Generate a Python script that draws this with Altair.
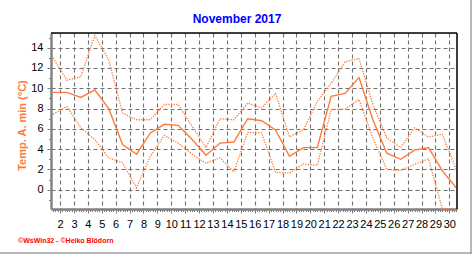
import altair as alt
import pandas as pd

# ---- data ----
days = list(range(1, 31))
temp_min = [9.6, 9.6, 9.1, 9.85, 8.0, 4.45, 3.5, 5.6, 6.45, 6.35,
            4.95, 3.4, 4.6, 4.7, 7.0, 6.8, 5.9, 3.3, 4.15, 4.15,
            9.2, 9.5, 11.05, 6.9, 3.6, 3.0, 3.9, 4.15, 1.85, 0.2]
temp_upper = [13.0, 10.8, 11.15, 15.2, 12.8, 7.55, 6.9, 6.9, 8.4, 8.4,
              6.25, 4.15, 7.0, 6.9, 8.55, 8.05, 9.5, 5.2, 5.9, 8.7,
              10.5, 12.6, 12.95, 8.4, 5.1, 4.15, 6.1, 5.2, 5.45, 2.0]
temp_lower = [7.45, 8.2, 6.1, 4.95, 3.15, 2.65, 0.2, 3.3, 5.35, 4.6,
              3.5, 2.6, 3.15, 1.75, 5.65, 5.6, 1.7, 1.65, 2.55, 2.4,
              7.9, 7.95, 8.9, 5.1, 2.0, 1.9, 2.5, 3.05, -2.5, -3.0]

x_labels = list(range(2, 31))
y_labels = list(range(0, 15, 2))
x_minor = [round(i / 6, 5) for i in range(9, 184)]
y_minor = list(range(-1, 16))

title_text = "November 2017"
y_title = "Temp. A. min (°C)"
footer_text = "©WsWin32 - ©Heiko Blödorn"

df = pd.DataFrame({"day": days, "tmin": temp_min,
                   "tupper": temp_upper, "tlower": temp_lower})

ORANGE = "#FF7A3A"
GRID = "#707070"
W, H = 406, 176
FONT = "Liberation Sans"

x_scale = alt.Scale(domain=[1.35, 30.55], nice=False, zero=False)
y_scale = alt.Scale(domain=[-1.9, 15.45], nice=False, zero=False, clamp=True)

x_axis = alt.Axis(
    values=x_labels, title=None, format="d", orient="bottom",
    labelOverlap=False, labelFont=FONT, labelFontSize=11, labelColor="black",
    labelPadding=5, labelFlush=False,
    grid=True, gridDash=[4, 3], gridColor=GRID, gridWidth=1.1,
    domainColor="#808080", domainWidth=2.4,
    tickColor="#808080", tickSize=4, tickWidth=1,
)
y_axis = alt.Axis(
    values=y_labels, title=y_title, format="d", orient="left",
    labelOverlap=False, labelFont=FONT, labelFontSize=11, labelColor="black",
    labelPadding=4, labelFlush=False,
    grid=True, gridDash=[4, 3], gridColor=GRID, gridWidth=1.1,
    domainColor="#808080", domainWidth=2.4,
    tickColor="#808080", tickSize=4, tickWidth=1,
    titleColor=ORANGE, titleFont=FONT, titleFontSize=11, titleFontWeight="bold",
    titleAngle=270, titleAlign="center", titleBaseline="middle",
    titleX=-29, titleY=92,
)
x_axis_minor = alt.Axis(
    values=x_minor, title=None, labels=False, grid=False, domain=False,
    orient="bottom", tickColor="#808080", tickSize=2.5, tickWidth=1,
)
y_axis_minor = alt.Axis(
    values=y_minor, title=None, labels=False, grid=False, domain=False,
    orient="left", tickColor="#808080", tickSize=2.5, tickWidth=1,
)

base = alt.Chart(df).transform_calculate(xpos="datum.day + 0.5")

line_min = base.mark_line(color=ORANGE, strokeWidth=1.4).encode(
    x=alt.X("xpos:Q", scale=x_scale, axis=x_axis),
    y=alt.Y("tmin:Q", scale=y_scale, axis=y_axis),
)
line_up = base.mark_line(color=ORANGE, strokeWidth=1.3, strokeDash=[1.3, 1.3]).encode(
    x=alt.X("xpos:Q", scale=x_scale, axis=x_axis_minor),
    y=alt.Y("tupper:Q", scale=y_scale, axis=y_axis_minor),
)
line_lo = base.mark_line(color=ORANGE, strokeWidth=1.3, strokeDash=[1.3, 1.3]).encode(
    x=alt.X("xpos:Q", scale=x_scale, axis=None),
    y=alt.Y("tlower:Q", scale=y_scale, axis=None),
)

one = pd.DataFrame({"t": [footer_text], "title": [title_text]})
frame_top = alt.Chart(one).mark_rule(color="black", strokeWidth=1.5).encode(
    x=alt.value(0), x2=alt.value(W), y=alt.value(0))
frame_right = alt.Chart(one).mark_rule(color="black", strokeWidth=1.5).encode(
    x=alt.value(W), y=alt.value(0), y2=alt.value(H))
outer_right = alt.Chart(one).mark_rule(color="#A0A0A0", strokeWidth=1.5).encode(
    x=alt.value(420), y=alt.value(-33), y2=alt.value(221))
outer_bottom = alt.Chart(one).mark_rule(color="#A0A0A0", strokeWidth=1.5).encode(
    x=alt.value(-51), x2=alt.value(421), y=alt.value(220))
footer = alt.Chart(one).mark_text(
    color="#FF0000", font=FONT, fontSize=7, fontWeight="bold",
    align="left", baseline="alphabetic").encode(
    x=alt.value(-33), y=alt.value(210), text="t:N")
title = alt.Chart(one).mark_text(
    color="#0000FF", font=FONT, fontSize=12, fontWeight="bold",
    align="center", baseline="alphabetic").encode(
    x=alt.value(186), y=alt.value(-10.5), text="title:N")

chart = alt.layer(
    line_min, line_up, line_lo, frame_top, frame_right,
    outer_right, outer_bottom, footer, title
).resolve_axis(
    x="independent", y="independent"
).properties(
    width=W, height=H,
    autosize=alt.AutoSizeParams(type="none"),
    padding={"left": 51, "top": 33, "right": 15, "bottom": 46},
).configure_view(strokeWidth=0).configure(background="white")

chart.save("out.html", embed_options={"renderer": "svg", "actions": False})
